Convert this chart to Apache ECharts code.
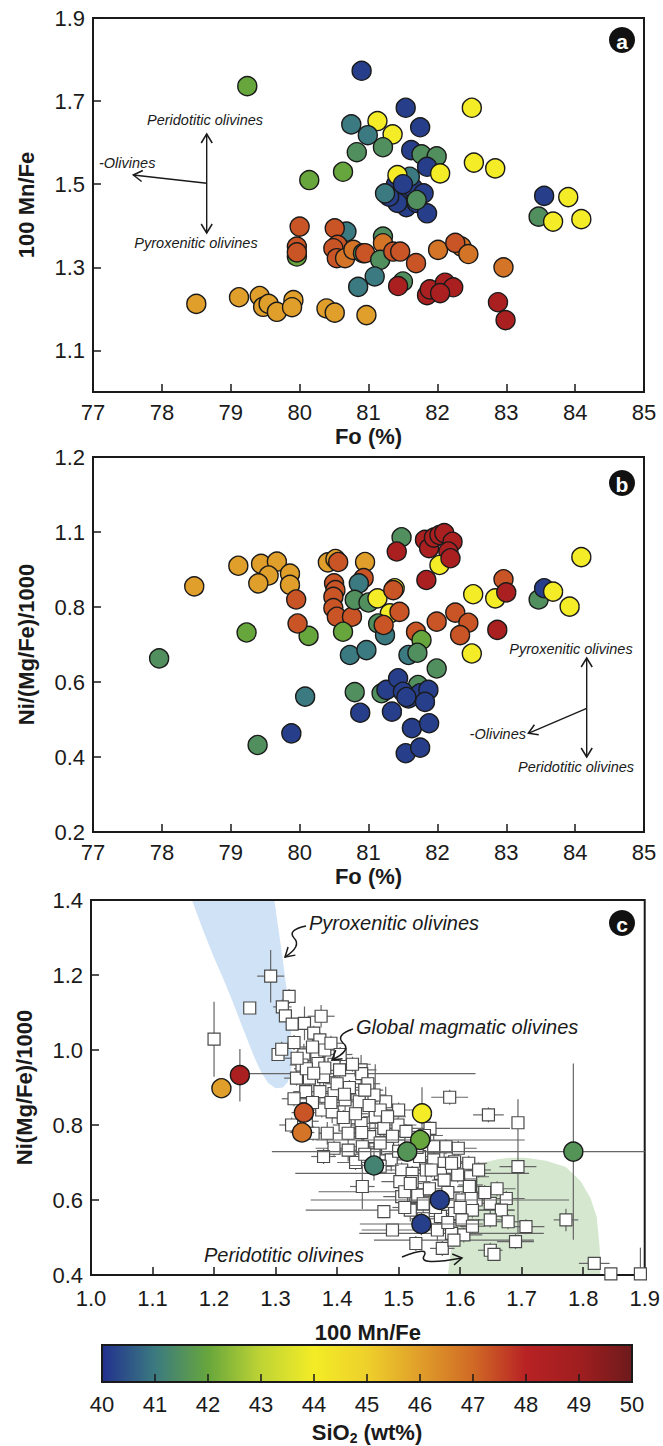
<!DOCTYPE html>
<html><head><meta charset="utf-8">
<script src="https://cdn.jsdelivr.net/npm/echarts@6/dist/echarts.min.js"></script>
<style>html,body{margin:0;padding:0;background:#fff}#chart{width:663px;height:1446px}</style>
</head><body><div id="chart"></div>
<script>
// ---------------- DATA ----------------
// colour scale (SiO2 wt%)
const siTicks = [40,41,42,43,44,45,46,47,48,49,50];
const siColors = ['#22308e','#3b7a80','#67a63c','#bfd434','#f3ec26','#eed02b','#e09e2a','#d06a25','#b82224','#a01e1f','#6e1a1c'];

// Panel a: Fo (%) vs 100 Mn/Fe
const aFo = [79.24,80.90,81.54,82.50,80.75,81.13,80.99,81.35,81.75,80.83,81.21,80.63,80.14,81.62,81.77,81.99,82.53,82.84,81.85,82.04,
  81.40,81.50,81.65,81.55,81.42,81.70,81.80,81.85,81.30,
  81.60,81.24,81.70,81.42,81.50,83.55,83.90,83.47,83.68,84.09,
  79.96,80.00,79.96,79.96,80.68,80.51,80.55,80.49,80.54,80.66,80.78,80.92,80.95,81.21,81.21,81.17,81.36,81.46,81.69,82.01,82.35,82.26,82.45,82.96,81.09,80.85,81.50,
  81.43,81.85,81.89,82.11,82.23,82.04,82.88,82.99,
  78.50,79.12,79.42,79.47,79.55,79.67,79.91,79.89,80.39,80.51,80.97];
const aMnFe = [1.736,1.773,1.684,1.684,1.644,1.652,1.618,1.620,1.637,1.577,1.589,1.530,1.510,1.582,1.572,1.567,1.552,1.538,1.542,1.526,
  1.500,1.470,1.490,1.445,1.455,1.455,1.478,1.430,1.470,
  1.518,1.478,1.462,1.522,1.500,1.472,1.469,1.422,1.410,1.416,
  1.326,1.398,1.350,1.336,1.386,1.394,1.354,1.346,1.322,1.322,1.342,1.334,1.334,1.374,1.358,1.318,1.338,1.338,1.310,1.342,1.350,1.359,1.332,1.300,1.278,1.253,1.266,
  1.255,1.233,1.247,1.263,1.252,1.238,1.216,1.173,
  1.212,1.228,1.231,1.205,1.212,1.193,1.221,1.204,1.201,1.191,1.185];
const aSiO2 = [42.0,40.2,40.2,44.0,41.0,44.0,41.0,44.0,40.2,41.5,41.5,42.0,42.0,40.2,41.5,41.5,44.0,44.0,40.2,44.0,
  40.2,40.2,40.2,40.2,40.2,40.2,40.2,40.2,40.2,
  41.0,41.0,41.5,44.0,40.2,40.2,44.0,41.5,44.0,44.0,
  42.0,47.3,47.3,47.3,41.0,47.3,47.3,47.3,47.3,46.8,46.8,41.5,47.3,41.5,46.8,41.5,47.3,47.3,47.3,46.8,46.8,47.3,46.8,46.8,41.0,41.0,41.5,
  48.6,48.6,48.6,48.6,48.6,48.6,48.6,48.6,
  46.0,46.0,46.0,46.0,46.0,46.0,46.0,46.0,46.0,46.0,46.0];
const aYTicks = [1.1,1.3,1.5,1.7,1.9];

// Panel b: Fo (%) vs Ni/(Mg/Fe)/1000
const bFo = [77.96,78.47,79.23,79.39,79.88,80.08,80.13,
  79.11,79.44,79.67,79.55,79.40,79.86,79.86,
  79.95,79.97,80.41,80.52,80.56,80.95,80.93,80.50,80.52,80.49,80.49,80.54,80.76,80.86,80.80,81.00,81.13,80.63,80.73,80.97,
  81.48,81.41,81.82,81.88,81.95,82.03,82.10,82.22,82.16,82.03,82.19,81.84,81.38,81.36,81.31,81.45,81.14,81.24,81.22,81.69,81.77,81.58,81.71,81.99,81.99,82.26,82.45,82.33,82.50,82.52,82.84,82.96,83.00,82.87,83.47,83.55,83.68,83.92,84.09,
  80.80,80.88,81.19,81.72,81.26,81.43,81.50,81.58,81.75,81.87,81.82,81.34,81.55,81.63,81.88,81.54,81.75];
const bNi = [0.663,0.855,0.732,0.432,0.463,0.561,0.723,
  0.910,0.915,0.921,0.884,0.863,0.889,0.859,
  0.820,0.756,0.919,0.928,0.920,0.920,0.877,0.863,0.845,0.827,0.797,0.774,0.774,0.863,0.819,0.812,0.823,0.734,0.672,0.685,
  0.986,0.948,0.979,0.957,0.985,0.992,0.997,0.974,0.948,0.912,0.930,0.872,0.850,0.845,0.783,0.787,0.756,0.725,0.752,0.734,0.712,0.672,0.678,0.636,0.761,0.785,0.758,0.725,0.676,0.834,0.823,0.874,0.839,0.739,0.820,0.850,0.841,0.801,0.933,
  0.573,0.518,0.570,0.592,0.579,0.610,0.574,0.556,0.570,0.579,0.547,0.521,0.560,0.477,0.490,0.410,0.425];
const bSiO2 = [41.5,46.0,42.0,41.5,40.2,41.0,42.0,
  46.0,46.0,46.0,46.0,46.0,46.0,46.0,
  47.3,47.3,46.0,46.0,47.3,46.0,47.3,47.3,47.3,47.3,47.3,47.3,47.3,41.0,41.5,41.5,44.0,42.0,41.0,41.0,
  41.5,48.6,48.6,48.6,48.6,48.6,48.6,48.6,48.6,44.0,48.6,48.6,44.0,47.3,44.0,47.3,41.5,41.0,47.3,47.3,42.0,41.0,41.5,41.5,47.3,47.3,47.3,47.3,44.0,44.0,44.0,47.3,48.6,48.6,41.5,40.2,44.0,44.0,44.0,
  41.5,40.2,41.5,41.5,40.2,40.2,40.2,40.2,40.2,40.2,40.2,40.2,40.2,40.2,40.2,40.2,40.2];
const bYTicks = [0.2,0.4,0.6,0.8,1.0,1.2];
const bYTickLabels = ['0.2','0.4','0.6','0.8','1.1','1.2'];
const foTicks = [77,78,79,80,81,82,83,84,85];

// Panel c: global magmatic olivines (squares with error bars)
const sqMnFe = [1.292,1.258,1.322,1.311,1.316,1.327,1.347,1.374,1.362,1.372,1.200,1.304,1.346,1.367,1.343,1.369,1.395,1.404,1.439,1.334,1.355,1.378,1.440,1.349,1.372,1.395,1.413,1.436,1.479,1.583,1.646,1.694,1.326,1.375,1.392,1.413,1.439,1.462,1.476,1.499,1.361,1.384,1.418,1.453,1.551,1.395,1.418,1.378,1.441,1.482,1.557,1.577,1.597,1.534,1.557,1.574,1.591,1.614,1.488,1.505,1.522,1.545,1.568,1.617,1.441,1.502,1.522,1.617,1.505,1.528,1.510,1.603,1.626,1.649,1.675,1.476,1.519,1.591,1.620,1.667,1.603,1.649,1.678,1.707,1.490,1.563,1.586,1.606,1.690,1.649,1.655,1.772,1.818,1.845,1.893,1.531,1.519,1.553,1.574,1.596,1.615,1.586,1.528,1.571,1.568,1.618,1.590,1.694,
  1.420,1.450,1.460,1.390,1.430,1.470,1.500,1.520,1.490,1.460,1.430,1.470,1.500,1.530,1.550,1.580,1.640,1.540,1.560,1.620,1.580,1.600,1.540,1.510,1.660,1.630,1.360,1.330,1.350,1.380,1.400,1.410,1.440,1.350,1.330,
  1.310,1.335,1.360,1.390,1.405,1.425,1.380,1.362,1.412,1.445,1.452,1.482,1.512,1.542,1.470,1.445];
const sqNi = [1.197,1.112,1.143,1.115,1.091,1.069,1.071,1.090,1.045,1.027,1.029,0.988,0.987,0.982,0.960,0.964,0.962,0.947,0.947,0.925,0.925,0.929,0.937,0.889,0.889,0.884,0.867,0.862,0.862,0.874,0.827,0.806,0.800,0.840,0.835,0.800,0.804,0.822,0.791,0.800,0.778,0.778,0.778,0.769,0.791,0.738,0.733,0.716,0.742,0.738,0.742,0.742,0.738,0.716,0.707,0.698,0.702,0.698,0.707,0.680,0.671,0.680,0.671,0.662,0.636,0.649,0.649,0.640,0.609,0.609,0.622,0.600,0.600,0.591,0.604,0.569,0.573,0.564,0.573,0.573,0.547,0.547,0.542,0.529,0.520,0.520,0.511,0.507,0.489,0.466,0.455,0.547,0.431,0.403,0.403,0.613,0.644,0.680,0.653,0.667,0.636,0.698,0.484,0.471,0.556,0.604,0.493,0.689,
  0.900,0.910,0.880,0.860,0.830,0.840,0.840,0.760,0.770,0.720,0.700,0.690,0.730,0.740,0.630,0.620,0.620,0.590,0.580,0.530,0.540,0.580,0.550,0.580,0.630,0.680,0.860,0.870,0.950,1.000,0.910,0.820,0.780,0.810,1.020,
  1.002,0.978,1.008,1.018,0.988,0.962,0.952,0.938,0.882,0.893,0.852,0.822,0.783,0.772,0.752,0.722];
const sqMnFeErr = [0.022,0,0.01,0.015,0.01,0.01,0.01,0.022,0.01,0.01,0,0,0.01,0.015,0.02,0.02,0.02,0.02,0.025,0.02,0.015,0.02,0.185,0.02,0.02,0.03,0.02,0.03,0.01,0.03,0.025,0,0.02,0.03,0.02,0.02,0.03,0.02,0.02,0.03,0.02,0.02,0.03,0.03,0.13,0.03,0.02,0.02,0.03,0.03,0.03,0.02,0.03,0.03,0.03,0.02,0.02,0.03,0.03,0.03,0.19,0.03,0.02,0.03,0.02,0.03,0.03,0.02,0.03,0.03,0.14,0.03,0.02,0.03,0.03,0,0.17,0.02,0.03,0.02,0.03,0.02,0.02,0.03,0.05,0.03,0.15,0.03,0.03,0.02,0,0.02,0.025,0,0,0.03,0.02,0.02,0.02,0.02,0.02,0.02,0.01,0.02,0.02,0.02,0.13,0.03,
  0.02,0.02,0.02,0.02,0.02,0.02,0.03,0.03,0.02,0.02,0.03,0.02,0.02,0.02,0.03,0.02,0.02,0.02,0.03,0.02,0.02,0.02,0.02,0.02,0.03,0.02,0.02,0.02,0.02,0.02,0.02,0.02,0.02,0.02,0.01,
  0.01,0.02,0.02,0.02,0.02,0.03,0.02,0.02,0.02,0.03,0.02,0.03,0.02,0.03,0.02,0.02];
const sqNiErr = [0.07,0,0.02,0.02,0.01,0.01,0.045,0.03,0.02,0.02,0.10,0,0.03,0.02,0.02,0.04,0.03,0.02,0.04,0.02,0.02,0.03,0.01,0.02,0.03,0.02,0.04,0.02,0.04,0.02,0.02,0,0.02,0.02,0.03,0.02,0.03,0.14,0.02,0.02,0.02,0.03,0.02,0.04,0.02,0.02,0.03,0.02,0.02,0.05,0.03,0.02,0.02,0.03,0.02,0.03,0.02,0.02,0.03,0.02,0.02,0.03,0.02,0.03,0.06,0.02,0.03,0.02,0.02,0.02,0.02,0.02,0.02,0.03,0.02,0,0.03,0.02,0.02,0.02,0.02,0.02,0.02,0.02,0.01,0.03,0.03,0.02,0.02,0.02,0,0.03,0.01,0,0.07,0.02,0.02,0.02,0.02,0.02,0.02,0.02,0.02,0.02,0.02,0.02,0.01,0.18,
  0.02,0.03,0.02,0.02,0.02,0.02,0.02,0.02,0.02,0.03,0.02,0.02,0.02,0.02,0.02,0.02,0.02,0.02,0.02,0.02,0.02,0.03,0.02,0.02,0.02,0.02,0.02,0.02,0.02,0.03,0.02,0.02,0.02,0.02,0.02,
  0.02,0.02,0.03,0.02,0.02,0.02,0.02,0.03,0.02,0.02,0.03,0.02,0.02,0.02,0.03,0.02];

// Panel c: this study (coloured circles)
const cMnFe = [1.212,1.242,1.346,1.343,1.538,1.535,1.514,1.460,1.784,1.567,1.537];
const cNi = [0.898,0.933,0.833,0.780,0.831,0.760,0.729,0.692,0.729,0.600,0.536];
const cSiO2 = [46.0,48.6,47.3,46.8,44.0,42.0,41.6,41.2,41.6,40.2,40.2];
const cMnFeErr = [0,0,0.02,0.02,0,0.17,0.03,0.04,0.49,0.21,0.10];
const cNiErr = [0,0.07,0.02,0.02,0.07,0.01,0.02,0.04,0.235,0.02,0.03];

// Panel c fields (outlines in data units)
const pyroxFieldMn = [1.164,1.182,1.199,1.215,1.230,1.244,1.256,1.267,1.277,1.288,1.300,1.312,1.320,1.325,1.327,1.326,1.323,1.318,1.311,1.304,1.298];
const pyroxFieldNi = [1.400,1.320,1.250,1.190,1.130,1.070,1.020,0.975,0.940,0.912,0.898,0.900,0.915,0.940,0.980,1.030,1.090,1.160,1.250,1.330,1.400];
const peridFieldMn = [1.580,1.583,1.586,1.593,1.603,1.613,1.624,1.640,1.661,1.685,1.706,1.740,1.772,1.796,1.812,1.822,1.827,1.828];
const peridFieldNi = [0.400,0.440,0.480,0.560,0.630,0.665,0.688,0.701,0.709,0.713,0.713,0.705,0.688,0.650,0.605,0.555,0.470,0.400];
const cXTicks = [1.0,1.1,1.2,1.3,1.4,1.5,1.6,1.7,1.8,1.9];
const cYTicks = [0.4,0.6,0.8,1.0,1.2,1.4];

// ---------------- CHART ----------------
const FONT = '"Liberation Sans", Arial, Helvetica, sans-serif';
const INK = '#1a1a1a';
const chart = echarts.init(document.getElementById('chart'), null, {renderer: 'svg'});

const zip3 = (x, y, z) => x.map((v, i) => [v, y[i], z[i]]);
const zip4 = (x, y, a, b) => x.map((v, i) => [v, y[i], a[i], b[i]]);

const tickLabel = {fontFamily: FONT, fontSize: 22, color: INK};
const nameStyle = {fontFamily: FONT, fontSize: 22, fontWeight: 'bold', color: INK};
function xAx(grid, min, max, ticks, name, gap, fmt, margin) {
  return {gridIndex: grid, type: 'value', min, max, name, nameLocation: 'middle', nameGap: gap,
    nameTextStyle: nameStyle,
    axisLine: {onZero: false, lineStyle: {color: INK, width: 2}},
    axisTick: {inside: true, length: 8, customValues: ticks, lineStyle: {color: INK, width: 1.5}},
    axisLabel: Object.assign({margin: margin, customValues: ticks, formatter: fmt}, tickLabel),
    splitLine: {show: false}};
}
function yAx(grid, min, max, ticks, name, fmt) {
  return {gridIndex: grid, type: 'value', min, max, name, nameLocation: 'middle', nameRotate: 90, nameGap: 56,
    nameTextStyle: nameStyle,
    axisLine: {onZero: false, lineStyle: {color: INK, width: 2}},
    axisTick: {inside: true, length: 8, customValues: ticks, lineStyle: {color: INK, width: 1.5}},
    axisLabel: Object.assign({margin: 8, customValues: ticks, formatter: fmt}, tickLabel),
    splitLine: {show: false}};
}
const f1 = v => Number(v).toFixed(1);
const fInt = v => String(Math.round(v));

function errRender(params, api) {
  const x = api.value(0), y = api.value(1), ex = api.value(2), ey = api.value(3);
  const cs = params.coordSys;
  const cx = v => Math.max(cs.x, Math.min(cs.x + cs.width, v));
  const cy = v => Math.max(cs.y, Math.min(cs.y + cs.height, v));
  const ch = [];
  const st = {stroke: '#666', lineWidth: 1.2};
  if (ex > 0) {
    const p1 = api.coord([x - ex, y]), p2 = api.coord([x + ex, y]);
    ch.push({type: 'line', shape: {x1: cx(p1[0]), y1: p1[1], x2: cx(p2[0]), y2: p2[1]}, style: st});
  }
  if (ey > 0) {
    const p1 = api.coord([x, y - ey]), p2 = api.coord([x, y + ey]);
    ch.push({type: 'line', shape: {x1: p1[0], y1: cy(p1[1]), x2: p2[0], y2: cy(p2[1])}, style: st});
  }
  return {type: 'group', children: ch};
}
function fieldRender(xs, ys, fill) {
  return function (params, api) {
    if (params.dataIndex !== 0) return null;
    const pts = xs.map((x, i) => api.coord([x, ys[i]]));
    return {type: 'polygon', shape: {points: pts, smooth: 0}, style: {fill: fill}};
  };
}

// ---- annotations ----
const G = [];
function txt(x, y, s, size, align, italic) {
  G.push({type: 'text', x: x, y: y, z: 100, style: {text: s, fill: INK,
    font: (italic === false ? '' : 'italic ') + size + 'px ' + FONT, align: align || 'center', verticalAlign: 'middle'}});
}
function seg(x1, y1, x2, y2) {
  G.push({type: 'line', z: 100, shape: {x1, y1, x2, y2}, style: {stroke: INK, lineWidth: 1.4}});
}
function head(tx, ty, fx, fy) {
  const dx = tx - fx, dy = ty - fy, L = Math.hypot(dx, dy), ux = dx / L, uy = dy / L;
  const len = 9, w = 5.5, bx = tx - ux * len, by = ty - uy * len;
  G.push({type: 'polyline', z: 100, shape: {points: [[bx - uy * w, by + ux * w], [tx, ty], [bx + uy * w, by - ux * w]]},
    style: {stroke: INK, lineWidth: 1.5, fill: null}});
}
function qcurve(x1, y1, cpx, cpy, x2, y2) {
  G.push({type: 'bezierCurve', z: 100, shape: {x1, y1, cpx1: cpx, cpy1: cpy, x2, y2}, style: {stroke: INK, lineWidth: 1.5, fill: null}});
}
function badge(cx, cy, letter) {
  G.push({type: 'circle', z: 100, shape: {cx: cx, cy: cy, r: 13}, style: {fill: '#111'}});
  G.push({type: 'text', x: cx, y: cy + 1, z: 101, style: {text: letter, fill: '#fff', font: 'bold 21px ' + FONT, align: 'center', verticalAlign: 'middle'}});
}
// panel a
txt(205, 120, 'Peridotitic olivines', 14.5);
seg(206.7, 134, 206.7, 233); head(206.7, 134, 206.7, 160); head(206.7, 233, 206.7, 200);
seg(206.7, 183.3, 133.3, 175); head(133.3, 175, 206.7, 183.3);
txt(99, 163, '-Olivines', 14.5, 'left');
txt(196, 243, 'Pyroxenitic olivines', 14.5);
badge(622, 40, 'a');
// panel b
txt(571, 649, 'Pyroxenitic olivines', 14.5);
seg(586.7, 658, 586.7, 757); head(586.7, 658, 586.7, 690); head(586.7, 757, 586.7, 720);
seg(586.7, 708.3, 528.3, 733.3); head(528.3, 733.3, 586.7, 708.3);
txt(526, 734, '-Olivines', 14.5, 'right');
txt(576, 767, 'Peridotitic olivines', 14.5);
badge(622, 483, 'b');
// panel c
txt(309, 923, 'Pyroxenitic olivines', 20, 'left');
qcurve(306, 926, 287, 930, 294, 938); qcurve(294, 938, 302, 946, 285, 957); head(285, 957, 294, 949);
txt(356, 1027, 'Global magmatic olivines', 20, 'left');
qcurve(353, 1029, 335, 1035, 343, 1043); qcurve(343, 1043, 352, 1050, 332, 1060); head(332, 1060, 341, 1053);
txt(204, 1255, 'Peridotitic olivines', 20, 'left');
qcurve(402, 1257, 430, 1246, 424, 1256); qcurve(424, 1256, 418, 1266, 462, 1258); head(462, 1258, 450, 1260);
badge(622, 923, 'c');

const option = {
  animation: false,
  backgroundColor: '#fff',
  grid: [
    {left: 93, top: 18, width: 551, height: 374, show: true, borderColor: INK, borderWidth: 2},
    {left: 93, top: 457, width: 551, height: 375, show: true, borderColor: INK, borderWidth: 2},
    {left: 91, top: 900, width: 557, height: 375, show: true, borderColor: INK, borderWidth: 2},
    {left: 102, top: 1345, width: 530, height: 40, show: true, borderColor: INK, borderWidth: 2}
  ],
  xAxis: [
    xAx(0, 77, 85, foTicks, 'Fo (%)', 33, fInt, 9),
    xAx(1, 77, 85, foTicks, 'Fo (%)', 33, fInt, 9),
    xAx(2, 1.0, 1.9, cXTicks, '100 Mn/Fe', 46, f1, 12),
    Object.assign(xAx(3, 40, 50, siTicks.slice(1, -1), 'SiO{s|2} (wt%)', 37, fInt, 11), {
      axisLabel: Object.assign({margin: 11, customValues: siTicks, formatter: fInt}, tickLabel),
      nameTextStyle: Object.assign({}, nameStyle, {lineHeight: 26, rich: {s: {fontFamily: FONT, fontSize: 14, fontWeight: 'bold', color: INK, verticalAlign: 'bottom', lineHeight: 26}}})
    })
  ],
  yAxis: [
    yAx(0, 1.0, 1.9, aYTicks, '100 Mn/Fe', f1),
    yAx(1, 0.2, 1.2, bYTicks, 'Ni/(Mg/Fe)/1000', v => bYTickLabels[bYTicks.findIndex(t => Math.abs(t - v) < 1e-6)]),
    yAx(2, 0.4, 1.4, cYTicks, 'Ni(Mg/Fe)/1000', f1),
    {gridIndex: 3, type: 'value', min: 0, max: 1, show: false}
  ],
  visualMap: [{type: 'continuous', show: false, min: 40, max: 50, dimension: 2, seriesIndex: [0, 1, 7],
    inRange: {color: siColors}}],
  series: [
    {type: 'scatter', xAxisIndex: 0, yAxisIndex: 0, data: zip3(aFo, aMnFe, aSiO2), symbolSize: 19,
      itemStyle: {borderColor: INK, borderWidth: 1.4, opacity: 1}},
    {type: 'scatter', xAxisIndex: 1, yAxisIndex: 1, data: zip3(bFo, bNi, bSiO2), symbolSize: 19,
      itemStyle: {borderColor: INK, borderWidth: 1.4, opacity: 1}},
    {type: 'custom', xAxisIndex: 2, yAxisIndex: 2, z: -1, renderItem: fieldRender(pyroxFieldMn, pyroxFieldNi, '#cfe2f6'),
      data: pyroxFieldMn.map((x, i) => [x, pyroxFieldNi[i]]), silent: true},
    {type: 'custom', xAxisIndex: 2, yAxisIndex: 2, z: -1, renderItem: fieldRender(peridFieldMn, peridFieldNi, '#d5e8cf'),
      data: peridFieldMn.map((x, i) => [x, peridFieldNi[i]]), silent: true},
    {type: 'custom', xAxisIndex: 2, yAxisIndex: 2, z: 2, renderItem: errRender,
      data: zip4(sqMnFe, sqNi, sqMnFeErr, sqNiErr), silent: true},
    {type: 'scatter', xAxisIndex: 2, yAxisIndex: 2, z: 3, symbol: 'rect', symbolSize: 12,
      data: sqMnFe.map((x, i) => [x, sqNi[i]]),
      itemStyle: {color: '#fff', borderColor: '#4a4a4a', borderWidth: 1.2, opacity: 1}},
    {type: 'custom', xAxisIndex: 2, yAxisIndex: 2, z: 4, renderItem: errRender,
      data: zip4(cMnFe, cNi, cMnFeErr, cNiErr), silent: true},
    {type: 'scatter', xAxisIndex: 2, yAxisIndex: 2, z: 5, data: zip3(cMnFe, cNi, cSiO2), symbolSize: 19,
      itemStyle: {borderColor: INK, borderWidth: 1.4, opacity: 1}},
    {type: 'custom', xAxisIndex: 3, yAxisIndex: 3, z: -1, silent: true, data: [[40, 0]],
      renderItem: function (params, api) {
        const p0 = api.coord([40, 0]), p1 = api.coord([50, 1]);
        return {type: 'rect', shape: {x: p0[0], y: p1[1], width: p1[0] - p0[0], height: p0[1] - p1[1]},
          style: {fill: new echarts.graphic.LinearGradient(0, 0, 1, 0,
            siColors.map((c, i) => ({offset: i / (siColors.length - 1), color: c})))}};
      }}
  ],
  graphic: G
};
chart.setOption(option);
</script>
</body></html>
